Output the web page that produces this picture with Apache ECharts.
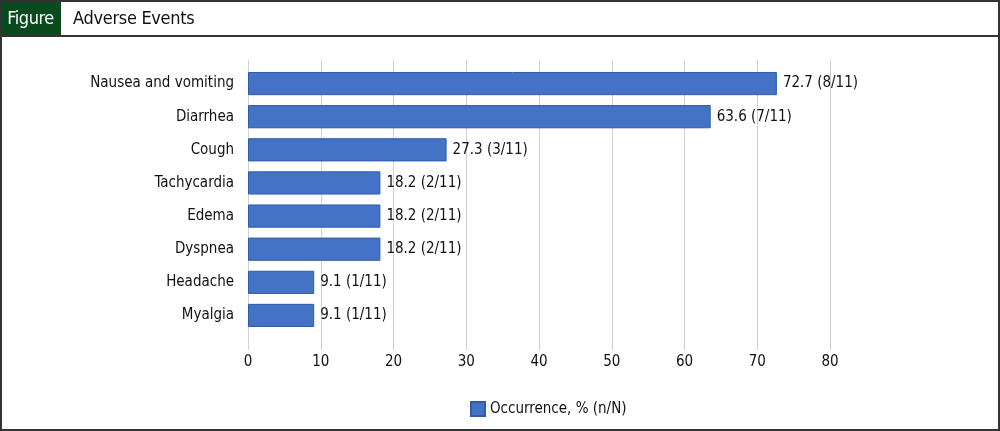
<!DOCTYPE html>
<html>
<head>
<meta charset="utf-8">
<script src="https://cdn.jsdelivr.net/npm/echarts@6/dist/echarts.min.js"></script>
<style>
html,body{margin:0;padding:0;background:#fff;}
#wrap{position:relative;width:1000px;height:431px;overflow:hidden;}
#chart{position:absolute;left:0;top:0;width:1000px;height:431px;}
#frame{position:absolute;left:0;top:0;width:996px;height:427px;border:2px solid #333;pointer-events:none;}
#hdr{position:absolute;left:0;top:0;width:1000px;height:35px;border-bottom:2px solid #333;}
#fig{position:absolute;left:0;top:0;width:61px;height:35px;background:#0b4a1f;color:#fff;font-family:"DejaVu Sans Condensed",sans-serif;font-size:18px;line-height:35px;text-align:center;letter-spacing:-0.5px;}
#ttl{position:absolute;left:73px;top:0;height:35px;line-height:35px;color:#111;font-family:"DejaVu Sans Condensed",sans-serif;font-size:18px;letter-spacing:-0.3px;}
</style>
</head>
<body>
<div id="wrap">
<div id="chart"></div>
<div id="hdr"><div id="fig">Figure</div><div id="ttl">Adverse Events</div></div>
<div id="frame"></div>
</div>
<script>
const categories = ["Nausea and vomiting","Diarrhea","Cough","Tachycardia","Edema","Dyspnea","Headache","Myalgia"];
const values = [72.7, 63.6, 27.3, 18.2, 18.2, 18.2, 9.1, 9.1];
const counts = ["8/11","7/11","3/11","2/11","2/11","2/11","1/11","1/11"];
const xTicks = [0,10,20,30,40,50,60,70,80];
const seriesName = "Occurrence, % (n/N)";

const FONT = '"DejaVu Sans Condensed",sans-serif';
const chart = echarts.init(document.getElementById('chart'));
chart.setOption({
  animation:false,
  textStyle:{fontFamily:FONT},
  grid:{left:248,right:170,top:67,bottom:99},
  legend:{
    data:[seriesName], left:465, top:396, icon:'rect', itemWidth:14, itemHeight:14, itemGap:8,
    textStyle:{fontSize:15,color:'#111',fontFamily:FONT}
  },
  xAxis:[{
    type:'value', min:xTicks[0], max:xTicks[xTicks.length-1], interval:10,
    axisLine:{show:false},
    axisTick:{show:true,length:18,lineStyle:{color:'#d0d0d0',width:1}},
    splitLine:{show:true,lineStyle:{color:'#d0d0d0',width:1}},
    axisLabel:{fontSize:15,color:'#111',margin:23,fontFamily:FONT}
  },{
    type:'value', position:'top', min:xTicks[0], max:xTicks[xTicks.length-1], interval:10,
    axisLine:{show:false},
    axisTick:{show:true,length:7,lineStyle:{color:'#d0d0d0',width:1}},
    splitLine:{show:false}, axisLabel:{show:false}
  }],
  yAxis:{
    type:'category', data:categories, inverse:true,
    axisLine:{show:false}, axisTick:{show:false},
    axisLabel:{fontSize:15,color:'#111',margin:14,fontFamily:FONT}
  },
  series:[{
    name:seriesName, type:'bar', xAxisIndex:0, data:values, barCategoryGap:'30%',
    itemStyle:{color:'#4472c4',borderColor:'#2f5ba8',borderWidth:1},
    label:{show:true,position:'right',distance:6,fontSize:15,color:'#111',fontFamily:FONT,
      formatter:p=>values[p.dataIndex].toFixed(1)+' ('+counts[p.dataIndex]+')'}
  }]
});
</script>
</body>
</html>
